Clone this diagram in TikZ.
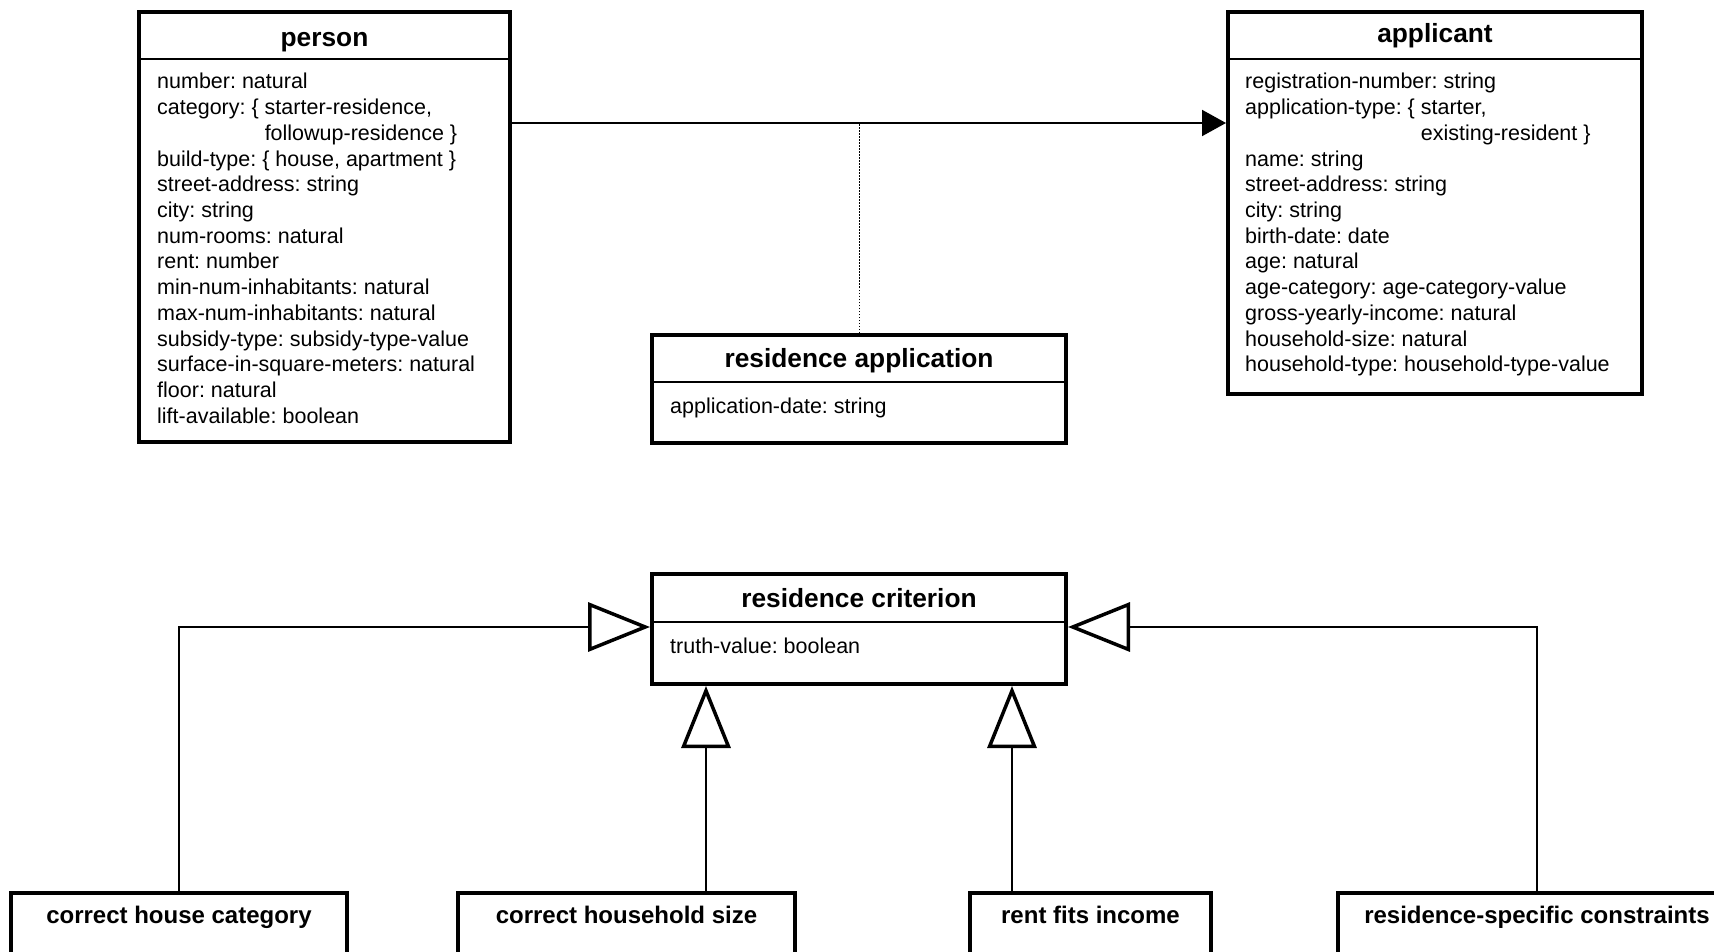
\documentclass[tikz,border=0pt]{standalone}
\usepackage{fontspec}
\setmainfont[Ligatures=NoCommon]{Liberation Sans}
\usetikzlibrary{arrows.meta,calc}
\frenchspacing

\begin{document}
\begin{tikzpicture}[x=1pt,y=-1pt,
  classbox/.style={draw, line width=4pt, rectangle, inner sep=0pt},
  sepline/.style={line width=1.4pt},
  title/.style={anchor=base, inner sep=0pt, font=\fontsize{26.3}{30}\selectfont\bfseries},
  subtitle/.style={anchor=base, inner sep=0pt, font=\fontsize{24}{28}\selectfont\bfseries},
  attr/.style={anchor=base west, inner sep=0pt, font=\fontsize{21.5}{25.7}\selectfont},
  assoc/.style={line width=2pt, -{Triangle[length=24pt,width=26pt]}},
  gen/.style={line width=2pt, -{Triangle[open,length=62pt,width=49pt,line width=3.5pt]}},
  link/.style={line width=1pt, dash pattern=on 1.5pt off 1.5pt},
]
\clip (0,0) rectangle (1714,952);
\fill[white] (0,0) rectangle (1714,952);

% class boxes
\node[classbox, minimum width=371pt, minimum height=430pt] (person) at (324.5,227) {};
\node[classbox, minimum width=414pt, minimum height=382pt] (applicant) at (1435,203) {};
\node[classbox, minimum width=414pt, minimum height=108pt] (resapp) at (859,389) {};
\node[classbox, minimum width=414pt, minimum height=110pt] (crit) at (859,629) {};
\node[classbox, minimum width=336pt, minimum height=120pt] (house) at (179,953) {};
\node[classbox, minimum width=337pt, minimum height=120pt] (household) at (626.5,953) {};
\node[classbox, minimum width=241pt, minimum height=120pt] (rent) at (1090.5,953) {};
\node[classbox, minimum width=398pt, minimum height=120pt] (constraints) at (1537,953) {};

% header separators
\coordinate (sepA) at (0,59);
\coordinate (sepB) at (0,382);
\coordinate (sepC) at (0,622);
\draw[sepline] (person.west |- sepA) -- (person.east |- sepA);
\draw[sepline] (applicant.west |- sepA) -- (applicant.east |- sepA);
\draw[sepline] (resapp.west |- sepB) -- (resapp.east |- sepB);
\draw[sepline] (crit.west |- sepC) -- (crit.east |- sepC);

% titles
\node[title] (persontitle) at (324.5,47) {person};
\node[title] (applicanttitle) at (1435,43) {applicant};
\node[title] (resapptitle) at (859,367) {residence application};
\node[title] (crittitle) at (859,607) {residence criterion};
\node[subtitle] (housetitle) at (179,923) {correct house category};
\node[subtitle] (householdtitle) at (626.5,923) {correct household size};
\node[subtitle] (renttitle) at (1090.5,923) {rent fits income};
\node[subtitle] (constraintstitle) at (1537,923) {residence-specific constraints};

% attributes
\foreach \t [count=\i from 0] in {
  {number: natural},
  {category: \{ starter-residence,},
  {\phantom{category: \{ }followup-residence \}},
  {build-type: \{ house, apartment \}},
  {street-address: string},
  {city: string},
  {num-rooms: natural},
  {rent: number},
  {min-num-inhabitants: natural},
  {max-num-inhabitants: natural},
  {subsidy-type: subsidy-type-value},
  {surface-in-square-meters: natural},
  {floor: natural},
  {lift-available: boolean}}
  \node[attr] (pa\i) at (157,89+25.7*\i) {\t};

\foreach \t [count=\i from 0] in {
  {registration-number: string},
  {application-type: \{ starter,},
  {\phantom{application-type: \{ }existing-resident \}},
  {name: string},
  {street-address: string},
  {city: string},
  {birth-date: date},
  {age: natural},
  {age-category: age-category-value},
  {gross-yearly-income: natural},
  {household-size: natural},
  {household-type: household-type-value}}
  \node[attr] (aa\i) at (1245,89+25.7*\i) {\t};

\node[attr] (ra0) at (670,413) {application-date: string};
\node[attr] (ca0) at (670,653) {truth-value: boolean};

% association with its association class
\coordinate (assocy) at (0,123);
\draw[assoc] (person.east |- assocy) -- (applicant.west |- assocy);
\draw[link] (resapp.north) -- (resapp.north |- assocy);

% generalizations
\coordinate (geny) at (0,627);
\coordinate (critL) at ([xshift=56pt]crit.south west);
\coordinate (critR) at ([xshift=-56pt]crit.south east);
\draw[gen] (house.north) |- (crit.west |- geny);
\draw[gen] (constraints.north) |- (crit.east |- geny);
\draw[gen] (household.north -| critL) -- (critL);
\draw[gen] (rent.north -| critR) -- (critR);
\end{tikzpicture}
\end{document}
